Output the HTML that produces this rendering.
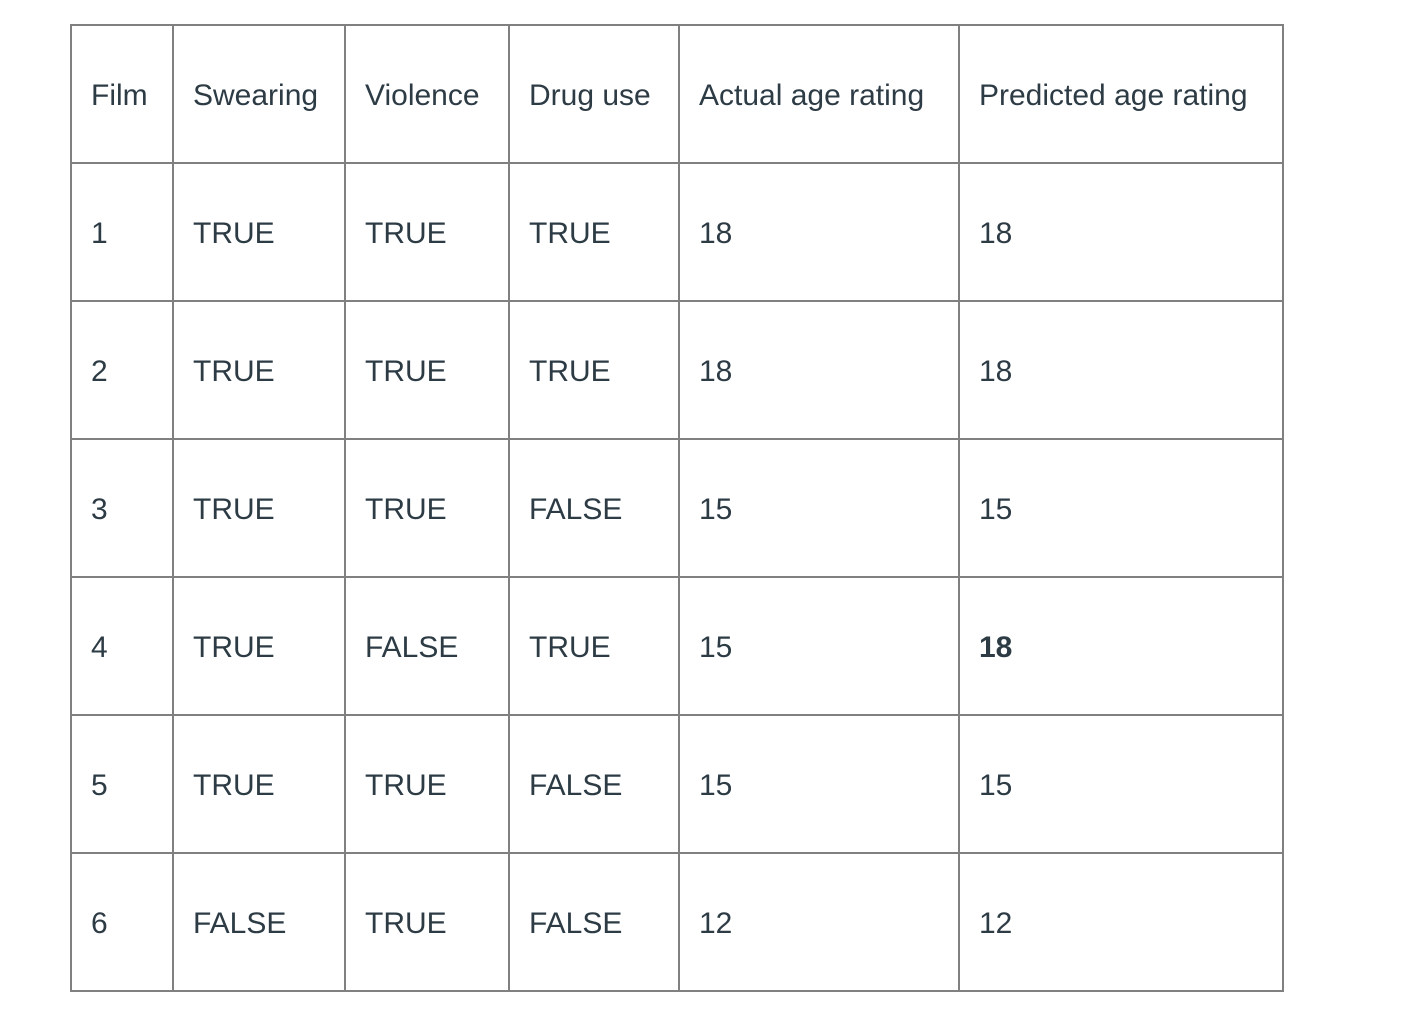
<!DOCTYPE html>
<html><head><meta charset="utf-8"><style>
body{margin:0;width:1422px;height:1018px;background:#fff;position:relative;overflow:hidden;font-family:"Liberation Sans",sans-serif;color:#2d3b45}
.v{position:absolute;top:24px;height:968px;width:2px;background:#808080}
.h{position:absolute;left:70px;width:1214px;height:2px;background:#808080}
.t{position:absolute;font-size:30px;line-height:30px;white-space:nowrap}
</style></head><body>
<div id="grid"></div>
<script>
const colX=[70,172,344,508,678,958,1282];
const rowY=[24,162,300,438,576,714,852,990];
const headers=["Film","Swearing","Violence","Drug use","Actual age rating","Predicted age rating"];
const rows=[["1","TRUE","TRUE","TRUE","18","18"],["2","TRUE","TRUE","TRUE","18","18"],["3","TRUE","TRUE","FALSE","15","15"],["4","TRUE","FALSE","TRUE","15","18"],["5","TRUE","TRUE","FALSE","15","15"],["6","FALSE","TRUE","FALSE","12","12"]];
const g=document.getElementById('grid');
colX.forEach(x=>{const d=document.createElement('div');d.className='v';d.style.left=x+'px';


g.appendChild(d);});
rowY.forEach(y=>{const d=document.createElement('div');d.className='h';d.style.top=y+'px';


g.appendChild(d);});
function cell(txt,r,c,bold,name){const d=document.createElement('div');d.className='t';d.textContent=txt;
d.style.left=(colX[c]+21)+'px';d.style.top=(rowY[r]+57)+'px';if(bold)d.style.fontWeight='bold';


g.appendChild(d);}
headers.forEach((h,c)=>cell(h,0,c,false,'header-cell'));
rows.forEach((row,r)=>row.forEach((v,c)=>cell(v,r+1,c,(r===3&&c===5),'table-cell')));
</script>
</body></html>
